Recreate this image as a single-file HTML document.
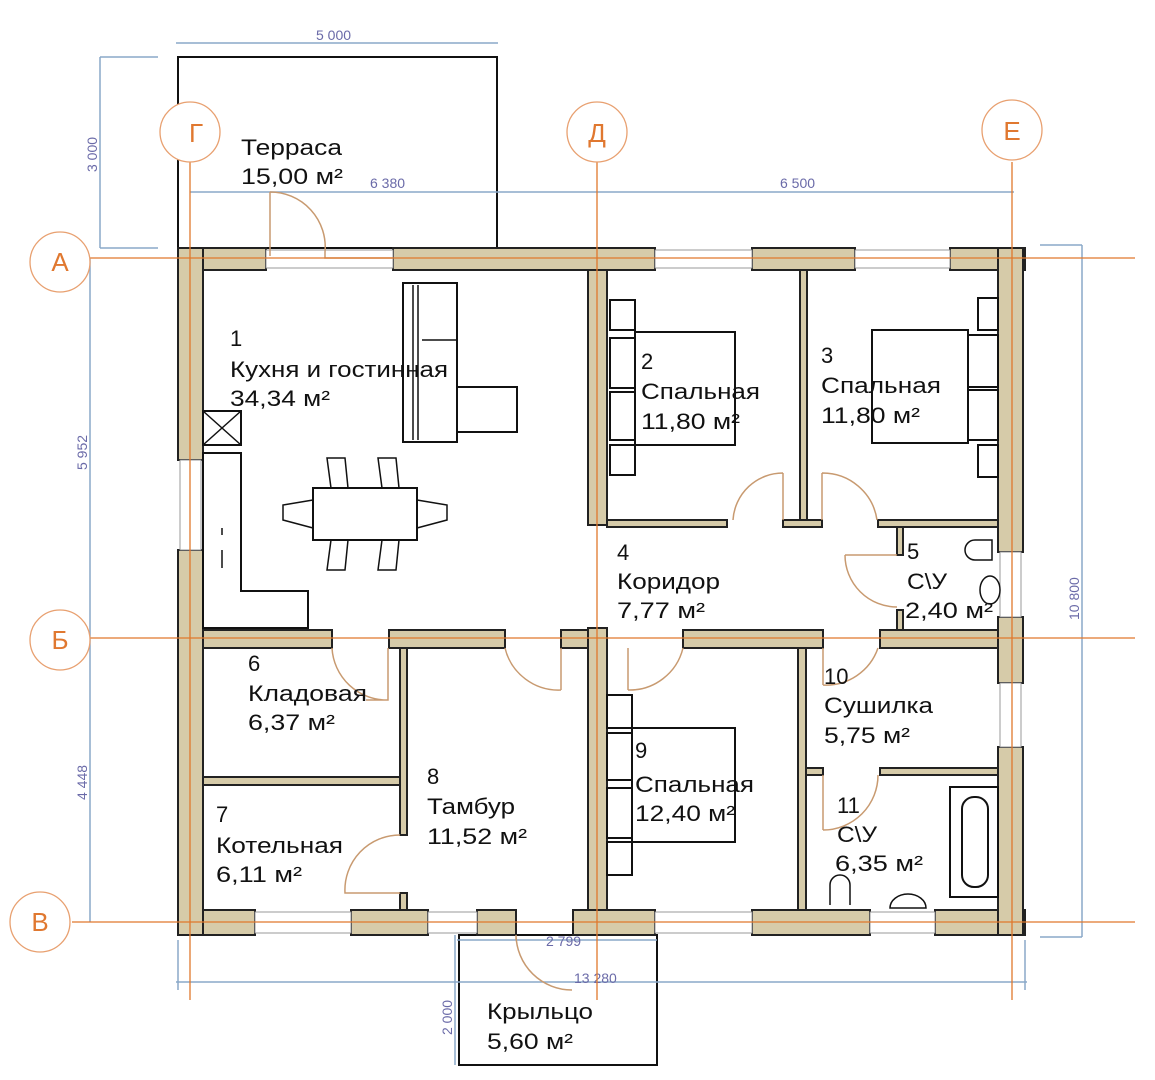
<!DOCTYPE html>
<html><head><meta charset="utf-8"><style>
html,body{margin:0;padding:0;background:#fff;}
svg{display:block;}
text{font-family:"Liberation Sans",sans-serif;}
</style></head><body>
<svg width="1155" height="1080" viewBox="0 0 1155 1080" xmlns="http://www.w3.org/2000/svg">
<rect width="1155" height="1080" fill="#fff"/>
<g fill="none" stroke="#111" stroke-width="2">
<rect x="178" y="57" width="319" height="191"/>
<rect x="459" y="935" width="198" height="130"/>
</g>
<g stroke="#8aa8c8" stroke-width="1.5" fill="none">
<line x1="176" y1="43" x2="498" y2="43"/>
<line x1="100" y1="57" x2="100" y2="248"/><line x1="100" y1="57" x2="158" y2="57"/><line x1="100" y1="248" x2="158" y2="248"/>
<line x1="190" y1="192" x2="1014" y2="192"/>
<line x1="90" y1="258" x2="90" y2="922"/>
<line x1="1082" y1="245" x2="1082" y2="937"/><line x1="1040" y1="245" x2="1082" y2="245"/><line x1="1040" y1="937" x2="1082" y2="937"/>
<line x1="457" y1="940" x2="657" y2="940"/>
<line x1="176" y1="982" x2="1027" y2="982"/>
<line x1="455" y1="935" x2="455" y2="1065"/>
<line x1="178" y1="940" x2="178" y2="990"/><line x1="1025" y1="940" x2="1025" y2="990"/>
</g>
<g fill="#6a6aa8" font-size="14">
<text x="316" y="40">5 000</text>
<text x="370" y="188">6 380</text>
<text x="780" y="188">6 500</text>
<text x="546" y="946">2 799</text>
<text x="574" y="983">13 280</text>
<text transform="translate(97,172) rotate(-90)">3 000</text>
<text transform="translate(87,470) rotate(-90)">5 952</text>
<text transform="translate(87,800) rotate(-90)">4 448</text>
<text transform="translate(1079,620) rotate(-90)">10 800</text>
<text transform="translate(452,1035) rotate(-90)">2 000</text>
</g>
<g fill="#d6cba9" stroke="#222" stroke-width="2">
<rect x="178" y="248" width="88" height="22"/>
<rect x="393" y="248" width="262" height="22"/>
<rect x="752" y="248" width="103" height="22"/>
<rect x="950" y="248" width="75" height="22"/>
<rect x="178" y="910" width="77" height="25"/>
<rect x="351" y="910" width="77" height="25"/>
<rect x="477" y="910" width="39" height="25"/>
<rect x="573" y="910" width="82" height="25"/>
<rect x="752" y="910" width="118" height="25"/>
<rect x="935" y="910" width="90" height="25"/>
<rect x="178" y="248" width="25" height="212"/>
<rect x="178" y="550" width="25" height="385"/>
<rect x="998" y="248" width="25" height="304"/>
<rect x="998" y="617" width="25" height="66"/>
<rect x="998" y="747" width="25" height="188"/>
<rect x="588" y="270" width="19" height="255"/>
<rect x="588" y="628" width="19" height="282"/>
<rect x="203" y="630" width="129" height="18"/>
<rect x="389" y="630" width="116" height="18"/>
<rect x="561" y="630" width="27" height="18"/>
<rect x="683" y="630" width="140" height="18"/>
<rect x="880" y="630" width="118" height="18"/>
</g>
<g fill="#fff" stroke="#999" stroke-width="1">
<rect x="266" y="250" width="127" height="18"/>
<rect x="655" y="250" width="97" height="18"/>
<rect x="855" y="250" width="95" height="18"/>
<rect x="255" y="912" width="96" height="21"/>
<rect x="428" y="912" width="49" height="21"/>
<rect x="655" y="912" width="97" height="21"/>
<rect x="870" y="912" width="65" height="21"/>
<rect x="180" y="460" width="21" height="90"/>
<rect x="1000" y="552" width="21" height="65"/>
<rect x="1000" y="683" width="21" height="64"/>
</g>
<g fill="#d6cba9" stroke="#222" stroke-width="2">
<rect x="800" y="270" width="7" height="255"/>
<rect x="607" y="520" width="120" height="7"/>
<rect x="783" y="520" width="39" height="7"/>
<rect x="878" y="520" width="120" height="7"/>
<rect x="897" y="527" width="6" height="28"/>
<rect x="897" y="610" width="6" height="20"/>
<rect x="400" y="648" width="7" height="187"/>
<rect x="400" y="893" width="7" height="17"/>
<rect x="203" y="777" width="197" height="8"/>
<rect x="798" y="648" width="8" height="262"/>
<rect x="806" y="768" width="17" height="7"/>
<rect x="880" y="768" width="118" height="7"/>
</g>
<g fill="none" stroke="#c89a70" stroke-width="1.5">
<path d="M270 192 L270 256 M270 192 A55 55 0 0 1 325 252 L325 258 L393 258"/>
<path d="M783 473 L783 520 M783 473 A50 50 0 0 0 733 520"/>
<path d="M822 473 L822 520 M822 473 A55 55 0 0 1 877 520"/>
<path d="M897 555 L845 555 M845 555 A52 52 0 0 0 897 607"/>
<path d="M388 648 L388 700 L366 700 M388 700 A55 55 0 0 1 332 648"/>
<path d="M561 648 L561 690 M561 690 A55 55 0 0 1 505 648"/>
<path d="M628 648 L628 690 M628 690 A55 55 0 0 0 683 648"/>
<path d="M823 648 L823 685 M823 685 A55 55 0 0 0 878 648"/>
<path d="M823 775 L823 830 M823 830 A55 55 0 0 0 878 775"/>
<path d="M400 835 A55 55 0 0 0 345 893 L400 893"/>
<path d="M516 935 L516 940 M516 935 A56 56 0 0 0 572 990"/>
</g>
<g stroke="#e0782c" stroke-width="1.3" fill="none">
<line x1="90" y1="258" x2="1135" y2="258"/>
<line x1="90" y1="638" x2="1135" y2="638"/>
<line x1="72" y1="922" x2="1135" y2="922"/>
<line x1="190" y1="162" x2="190" y2="1000"/>
<line x1="597" y1="162" x2="597" y2="1000"/>
<line x1="1012" y1="162" x2="1012" y2="1000"/>
</g>
<g stroke="#e8a070" stroke-width="1.3" fill="#fff">
<circle cx="60" cy="262" r="30"/>
<circle cx="60" cy="640" r="30"/>
<circle cx="40" cy="922" r="30"/>
<circle cx="190" cy="132" r="30"/>
<circle cx="597" cy="132" r="30"/>
<circle cx="1012" cy="130" r="30"/>
</g>
<g fill="#e07830" font-size="26" text-anchor="middle">
<text x="60" y="271">А</text>
<text x="60" y="649">Б</text>
<text x="40" y="931">В</text>
<text x="196" y="142">Г</text>
<text x="597" y="142">Д</text>
<text x="1012" y="140">Е</text>
</g>
<g fill="#fff" stroke="#111" stroke-width="2">
<rect x="403" y="283" width="54" height="159"/>
<rect x="457" y="387" width="60" height="45"/>
<rect x="203" y="411" width="38" height="34"/>
<path d="M203 453 H241 V591 H308 V628 H203 Z"/>
<rect x="313" y="488" width="104" height="52"/>
<rect x="610" y="300" width="25" height="30"/><rect x="610" y="445" width="25" height="30"/>
<rect x="610" y="338" width="28" height="50"/><rect x="610" y="392" width="28" height="48"/>
<rect x="635" y="332" width="100" height="113"/>
<rect x="978" y="298" width="20" height="32"/><rect x="978" y="445" width="20" height="32"/>
<rect x="965" y="335" width="33" height="52"/><rect x="965" y="390" width="33" height="50"/>
<rect x="872" y="330" width="96" height="113"/>
<rect x="607" y="695" width="25" height="33"/><rect x="607" y="842" width="25" height="33"/>
<rect x="607" y="733" width="27" height="47"/><rect x="607" y="788" width="27" height="50"/>
<rect x="632" y="728" width="103" height="114"/>
<rect x="950" y="787" width="48" height="110"/>
<rect x="962" y="797" width="26" height="90" rx="12"/>
</g>
<g fill="none" stroke="#111" stroke-width="1.5">
<line x1="203" y1="411" x2="241" y2="445"/><line x1="241" y1="411" x2="203" y2="445"/>
<line x1="413" y1="285" x2="413" y2="440"/><line x1="418" y1="285" x2="418" y2="440"/>
<line x1="422" y1="340" x2="457" y2="340"/>
<path d="M222 528 V535 M222 550 V568"/>
<path d="M331 488 L327 458 L345 458 L348 488 M382 488 L378 458 L396 458 L399 488"/>
<path d="M331 540 L327 570 L345 570 L348 540 M382 540 L378 570 L396 570 L399 540"/>
<path d="M313 500 L283 505 L283 520 L313 528 M417 500 L447 505 L447 520 L417 528"/>
<path d="M992 540 H975 A10 10 0 0 0 975 560 H992 Z"/>
<ellipse cx="990" cy="590" rx="10" ry="14"/>
<path d="M830 905 V885 A10 10 0 0 1 850 885 V905"/>
<path d="M890 908 A18 14 0 0 1 926 908 Z"/>
</g>
<g fill="#111" font-size="22">
<text x="241" y="155" textLength="101" lengthAdjust="spacingAndGlyphs">Терраса</text><text x="241" y="184" textLength="102" lengthAdjust="spacingAndGlyphs">15,00 м²</text>
<text x="230" y="346">1</text><text x="230" y="377" textLength="218" lengthAdjust="spacingAndGlyphs">Кухня и гостинная</text><text x="230" y="406" textLength="100" lengthAdjust="spacingAndGlyphs">34,34 м²</text>
<text x="641" y="369">2</text><text x="641" y="399" textLength="119" lengthAdjust="spacingAndGlyphs">Спальная</text><text x="641" y="429" textLength="99" lengthAdjust="spacingAndGlyphs">11,80 м²</text>
<text x="821" y="363">3</text><text x="821" y="393" textLength="120" lengthAdjust="spacingAndGlyphs">Спальная</text><text x="821" y="423" textLength="99" lengthAdjust="spacingAndGlyphs">11,80 м²</text>
<text x="617" y="560">4</text><text x="617" y="589" textLength="103" lengthAdjust="spacingAndGlyphs">Коридор</text><text x="617" y="618" textLength="88" lengthAdjust="spacingAndGlyphs">7,77 м²</text>
<text x="907" y="559">5</text><text x="907" y="589" textLength="40" lengthAdjust="spacingAndGlyphs">С\У</text><text x="905" y="618" textLength="88" lengthAdjust="spacingAndGlyphs">2,40 м²</text>
<text x="248" y="671">6</text><text x="248" y="701" textLength="119" lengthAdjust="spacingAndGlyphs">Кладовая</text><text x="248" y="730" textLength="87" lengthAdjust="spacingAndGlyphs">6,37 м²</text>
<text x="216" y="822">7</text><text x="216" y="853" textLength="127" lengthAdjust="spacingAndGlyphs">Котельная</text><text x="216" y="882" textLength="86" lengthAdjust="spacingAndGlyphs">6,11 м²</text>
<text x="427" y="784">8</text><text x="427" y="814" textLength="88" lengthAdjust="spacingAndGlyphs">Тамбур</text><text x="427" y="844" textLength="100" lengthAdjust="spacingAndGlyphs">11,52 м²</text>
<text x="635" y="758">9</text><text x="635" y="792" textLength="119" lengthAdjust="spacingAndGlyphs">Спальная</text><text x="635" y="821" textLength="100" lengthAdjust="spacingAndGlyphs">12,40 м²</text>
<text x="824" y="684">10</text><text x="824" y="713" textLength="109" lengthAdjust="spacingAndGlyphs">Сушилка</text><text x="824" y="743" textLength="86" lengthAdjust="spacingAndGlyphs">5,75 м²</text>
<text x="837" y="813">11</text><text x="837" y="842" textLength="40" lengthAdjust="spacingAndGlyphs">С\У</text><text x="835" y="871" textLength="88" lengthAdjust="spacingAndGlyphs">6,35 м²</text>
<text x="487" y="1019" textLength="106" lengthAdjust="spacingAndGlyphs">Крыльцо</text><text x="487" y="1049" textLength="86" lengthAdjust="spacingAndGlyphs">5,60 м²</text>
</g>
</svg>
</body></html>
